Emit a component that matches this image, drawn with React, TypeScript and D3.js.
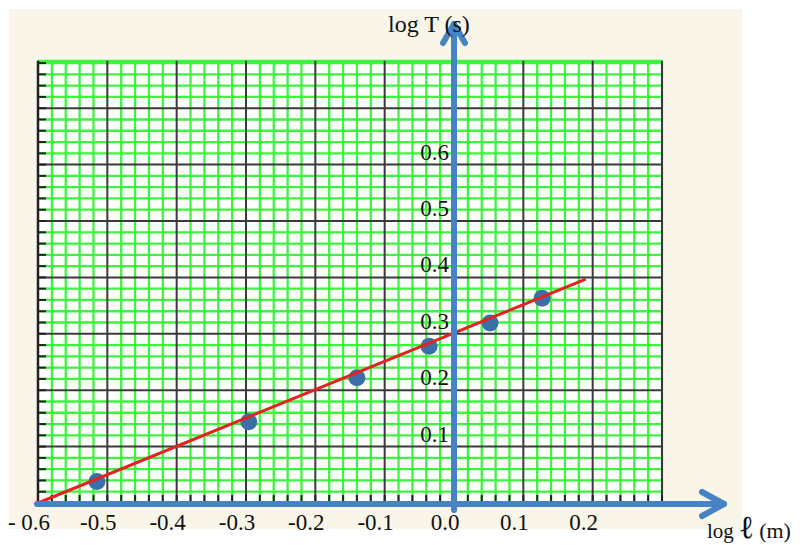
import * as React from "react";
import * as d3 from "d3";

// measured points (log l, log T)
const logL = [-0.515, -0.296, -0.14, -0.036, 0.052, 0.127];
const logT = [0.038, 0.144, 0.222, 0.278, 0.319, 0.363];
// best fit line end points
const fitX = [-0.6, 0.19];
const fitY = [0, 0.397];

const xTicks = [-0.6, -0.5, -0.4, -0.3, -0.2, -0.1, 0.0, 0.1, 0.2];
const xTickLabels = ["- 0.6", "-0.5", "-0.4", "-0.3", "-0.2", "-0.1", "0.0", "0.1", "0.2"];
const yTicks = [0.1, 0.2, 0.3, 0.4, 0.5, 0.6];
const yTickLabels = ["0.1", "0.2", "0.3", "0.4", "0.5", "0.6"];

const W = 803;
const H = 545;
const FONT = "Liberation Serif";

const App = () => {
  const x = d3.scaleLinear().domain([-0.6, 0.3]).range([38, 662]);
  const y = d3.scaleLinear().domain([0, 0.1]).range([503, 446.6]);

  const gridTop = 0.784;
  const gx0 = x(-0.6), gx1 = x(0.3);
  const gy0 = y(0), gy1 = y(gridTop);

  // grid lines every 0.02, majors every 0.1
  const vLines = d3.range(0, 46).map(i => ({ v: -0.6 + i * 0.02, major: i % 5 === 0 }));
  const hLines = d3.range(0, 40).map(i => ({ v: i * 0.02, major: i % 5 === 0 }));

  const blue = "#4683c4";
  const green = "#3ef53e";
  const ax = x(0);

  const fit = d3.line<number>().x((d, i) => x(fitX[i])).y((d, i) => y(fitY[i]));

  return (
    <svg width={W} height={H} style={{ position: "absolute", left: 0, top: 0 }}>
      <rect width={W} height={H} fill="#fff" />
      <rect x={9} y={9} width={733} height={520} fill="#f9f6e9" />
      <rect x={gx0} y={gy1} width={gx1 - gx0} height={gy0 - gy1} fill="#fff" />

      {/* minor grid */}
      {vLines.filter(d => !d.major).map((d, i) => (
        <line key={"vm" + i} x1={x(d.v)} x2={x(d.v)} y1={gy0} y2={gy1} stroke={green} strokeWidth={2.3} />
      ))}
      {hLines.filter(d => !d.major).map((d, i) => (
        <line key={"hm" + i} x1={gx0} x2={gx1} y1={y(d.v)} y2={y(d.v)} stroke={green} strokeWidth={2.3} />
      ))}
      <line x1={gx1} x2={gx1} y1={gy0} y2={gy1} stroke={green} strokeWidth={2.3} />
      <line x1={gx0} x2={gx1} y1={gy1} y2={gy1} stroke={green} strokeWidth={2.3} />

      {/* major grid */}
      {vLines.filter(d => d.major).map((d, i) => (
        <line key={"vM" + i} x1={x(d.v)} x2={x(d.v)} y1={gy0} y2={gy1} stroke="#3a3a3a" strokeWidth={2} />
      ))}
      {hLines.filter(d => d.major).map((d, i) => (
        <line key={"hM" + i} x1={gx0} x2={gx1} y1={y(d.v)} y2={y(d.v)} stroke="#3a3a3a" strokeWidth={2} />
      ))}

      {/* edge ticks */}
      <line x1={gx0} x2={gx0} y1={gy0} y2={gy1} stroke="#222" strokeWidth={2.5} />
      {hLines.map((d, i) => (
        <line key={"lt" + i} x1={gx0} x2={gx0 + 8} y1={y(d.v)} y2={y(d.v)} stroke="#222" strokeWidth={2} />
      ))}
      {vLines.map((d, i) => (
        <line key={"bt" + i} x1={x(d.v)} x2={x(d.v)} y1={gy0} y2={gy0 - 8} stroke="#222" strokeWidth={2} />
      ))}

      {/* points */}
      {logL.map((v, i) => (
        <circle key={"p" + i} cx={x(v)} cy={y(logT[i])} r={8.5} fill="#3b6fa8" />
      ))}

      {/* fitted line */}
      <path d={fit([0, 0]) || ""} stroke="#e3231e" strokeWidth={3} fill="none" />

      {/* axes */}
      <g stroke={blue} strokeWidth={6} fill="none" strokeLinecap="round" strokeLinejoin="round">
        <line x1={37} x2={724} y1={gy0 + 1} y2={gy0 + 1} />
        <polyline points={`702,492 724,${gy0 + 1} 702,516`} />
        <line x1={ax} x2={ax} y1={510} y2={24} />
        <polyline points={`${ax - 11},43 ${ax},24 ${ax + 11},43`} />
      </g>

      {/* tick labels */}
      <g fontFamily={FONT} fill="#111">
        {xTicks.map((v, i) => (
          <text key={"xl" + i} x={x(v) - 9} y={530} fontSize={23} textAnchor="middle">
            {xTickLabels[i]}
          </text>
        ))}
        {yTicks.map((v, i) => (
          <text key={"yl" + i} x={ax - 5} y={y(v) - 5} fontSize={23} textAnchor="end">
            {yTickLabels[i]}
          </text>
        ))}

        {/* axis titles */}
        <text x={388} y={32} fontSize={24}>log T (s)</text>
        <text x={707} y={538}>
          <tspan fontSize={21}>log</tspan>
          <tspan fontSize={32} dx={5}>ℓ</tspan>
          <tspan fontSize={22} dx={5}>(m)</tspan>
        </text>
      </g>
    </svg>
  );
};

export default App;
